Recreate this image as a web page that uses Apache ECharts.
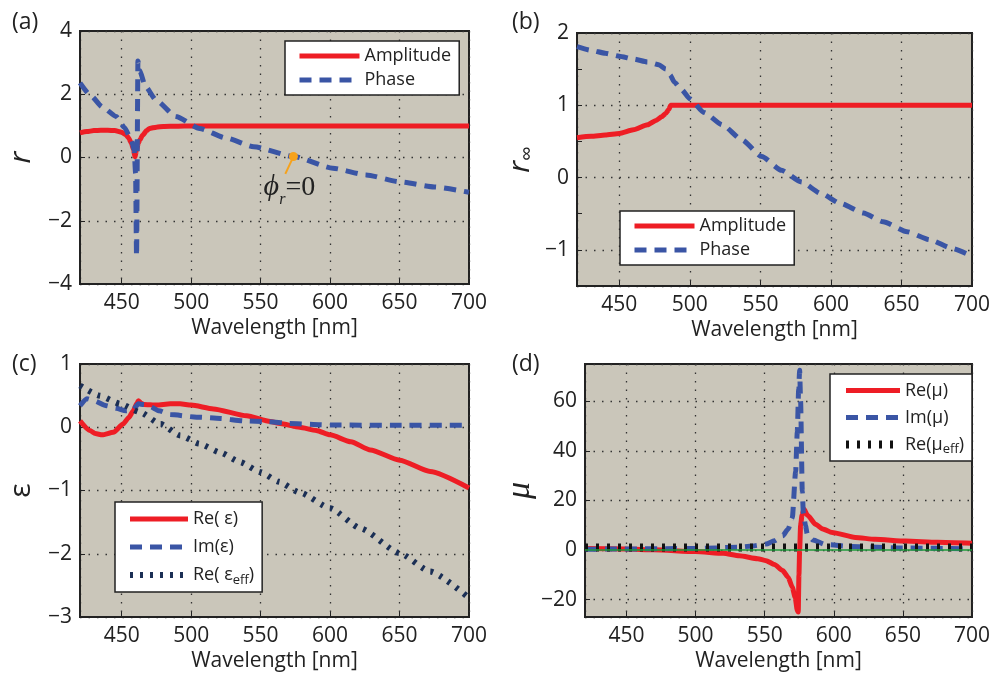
<!DOCTYPE html>
<html>
<head>
<meta charset="utf-8">
<title>Reflection and effective parameters</title>
<script src="https://cdn.jsdelivr.net/npm/echarts@6/dist/echarts.min.js"></script>
<style>
  html, body { margin: 0; background: #fff; }
  #chart { width: 993px; height: 675px; }
</style>
</head>
<body>
<div id="chart"></div>
<script>
// (a) reflection, r
const ampAX = [420, 425, 430, 435, 440, 445, 450, 453, 455, 457, 458.5, 459.6, 460.5, 462, 463, 465, 468, 470, 475, 480, 490, 500, 550, 600, 650, 700];
const ampAY = [0.78, 0.82, 0.85, 0.86, 0.86, 0.85, 0.8, 0.72, 0.62, 0.45, 0.25, 0.02, 0.2, 0.45, 0.55, 0.7, 0.85, 0.92, 0.96, 0.98, 0.99, 1.0, 1.0, 1.0, 1.0, 1.0];
const phaseAX = [420, 428, 436, 446, 452, 457, 459, 460, 460.7, 461.7, 463, 467, 475, 489, 506, 525, 545, 574, 602, 626, 650, 675, 700];
const phaseAY = [2.36, 1.95, 1.6, 1.3, 0.95, 0.55, 0.25, -0.5, -3.12, 3.05, 2.75, 2.25, 1.8, 1.3, 0.92, 0.62, 0.34, 0.03, -0.34, -0.55, -0.77, -0.93, -1.1];

// (b) r infinity
const ampBX = [420, 430, 440, 450, 460, 470, 476, 480, 483, 485, 486.5, 500, 550, 600, 650, 700];
const ampBY = [0.55, 0.57, 0.59, 0.61, 0.66, 0.73, 0.79, 0.84, 0.89, 0.94, 1.0, 1.0, 1.0, 1.0, 1.0, 1.0];
const phaseBX = [420, 430, 440, 450, 460, 470, 478, 483, 486, 489, 494, 500, 510, 523, 537, 551, 565, 579, 593, 607, 623, 637, 654, 670, 686, 700];
const phaseBY = [1.81, 1.76, 1.72, 1.68, 1.64, 1.6, 1.56, 1.5, 1.42, 1.32, 1.22, 1.09, 0.9, 0.73, 0.52, 0.29, 0.1, -0.06, -0.22, -0.36, -0.49, -0.61, -0.75, -0.86, -0.98, -1.09];

// (c) permittivity
const reEpsX = [420, 427, 431, 436, 444, 451, 455, 458.4, 461, 462, 464, 466, 475, 485, 492, 500, 516, 540, 557, 564, 578, 590, 600, 615, 629, 650, 672, 700];
const reEpsY = [0.1, -0.05, -0.1, -0.12, -0.08, 0.05, 0.15, 0.26, 0.38, 0.42, 0.38, 0.36, 0.35, 0.37, 0.37, 0.35, 0.29, 0.18, 0.09, 0.06, 0.0, -0.05, -0.12, -0.23, -0.36, -0.52, -0.7, -0.96];
const imEpsX = [420, 425, 430, 439, 446, 453, 458, 462, 466, 470, 477, 485, 504, 521, 538, 555, 571, 588, 602, 650, 700];
const imEpsY = [0.34, 0.45, 0.42, 0.34, 0.3, 0.26, 0.27, 0.37, 0.36, 0.33, 0.26, 0.2, 0.16, 0.14, 0.1, 0.09, 0.06, 0.045, 0.035, 0.03, 0.03];
const effEpsX = [420, 434, 449, 463, 478, 492, 506, 521, 535, 550, 563, 578, 600, 622, 650, 672, 700];
const effEpsY = [0.66, 0.5, 0.37, 0.24, 0.05, -0.13, -0.26, -0.4, -0.55, -0.71, -0.86, -1.03, -1.28, -1.6, -1.99, -2.28, -2.7];

// (d) permeability
const reMuX = [420, 450, 470, 500, 520, 531.6, 545, 551, 557, 563, 567, 570, 572, 573.6, 574.3, 574.8, 575.3, 576, 577, 578.4, 581, 586.8, 592, 598.8, 615.6, 630, 652, 675, 700];
const reMuY = [0.6, 0.4, 0.1, -0.6, -1.3, -2.3, -3.5, -4.3, -5.8, -8.3, -11, -15, -19, -24.3, -25, -10, 0, 10, 14, 16.5, 14, 10.4, 8.5, 7.1, 5.1, 4.3, 3.6, 3.1, 2.7];
const imMuX = [420, 500, 530, 539, 551, 557, 563, 567, 570, 572.4, 573.6, 574.6, 575.3, 576, 577.2, 578, 579.5, 580.8, 585, 594, 613, 650, 700];
const imMuY = [0.3, 0.6, 1.1, 1.5, 2.4, 3.7, 5.7, 8.5, 13, 31.7, 47.7, 65, 72.5, 60, 23.7, 15, 10, 6.4, 4, 2.2, 1.4, 0.8, 0.5];
const effMuX = [420, 500, 600, 700];
const effMuY = [1, 1, 1, 1];

const FONT = '"Open Sans", sans-serif';
const SERIF = '"Liberation Serif", serif';
const BG = '#cac6ba';
const RED = '#ee1d25';
const BLUE = '#3a55a5';
const NAVY = '#1b2f55';
const INK = '#222';
const ORANGE = '#f6a21c';

const DASH = [12, 8];
const DOT_EPS = [3, 7];
const DOT_MU = [3, 8];

const pairs = (xs, ys) => xs.map((x, i) => [x, ys[i]]);
const minus = v => (v < 0 ? '\u2212' + Math.abs(v) : String(v));
const gridLine = { color: '#333', width: 1.3, type: [1.5, 7] };

const grids = [
  { left: 80, top: 31, width: 389, height: 253 },
  { left: 577, top: 33, width: 399, height: 253 },
  { left: 80, top: 364, width: 389, height: 253 },
  { left: 585, top: 364, width: 389, height: 253 }
].map(g => Object.assign(g, { show: true, backgroundColor: BG, borderColor: INK, borderWidth: 2 }));

function xAxis(gridIndex) {
  return {
    type: 'value', gridIndex, min: 420, max: 700, minInterval: 50, maxInterval: 50,
    name: 'Wavelength [nm]', nameLocation: 'middle', nameGap: 34,
    nameTextStyle: { fontFamily: FONT, fontSize: 21, color: INK },
    axisLine: { show: true, onZero: false, lineStyle: { color: INK, width: 2 } },
    axisTick: { inside: true, length: 5, lineStyle: { color: INK } },
    axisLabel: { fontFamily: FONT, fontSize: 21, color: INK, margin: 9, formatter: v => (v % 50 === 0 ? String(v) : '') },
    splitLine: { show: true, lineStyle: gridLine }
  };
}

function yAxis(gridIndex, min, max, step, name, nameGap, rich, labelStep) {
  return {
    type: 'value', gridIndex, min, max, minInterval: step, maxInterval: step,
    name, nameLocation: 'middle', nameGap,
    nameTextStyle: { fontFamily: FONT, fontSize: 28, color: INK, rich },
    axisLine: { show: true, onZero: false, lineStyle: { color: INK, width: 2 } },
    axisTick: { inside: true, length: 5, lineStyle: { color: INK } },
    axisLabel: {
      fontFamily: FONT, fontSize: 21, color: INK, margin: 8,
      formatter: v => (Math.abs(v / labelStep - Math.round(v / labelStep)) < 1e-6 ? minus(v) : '')
    },
    splitLine: { show: labelStep === step, lineStyle: gridLine }
  };
}

const yAxes = [
  yAxis(0, -4, 4, 2, '{i|r}', 44, { i: { fontFamily: FONT, fontStyle: 'italic', fontSize: 30 } }, 2),
  yAxis(1, -1.5, 2, 0.5, '{i|r}{s|∞}', 38, {
    i: { fontFamily: FONT, fontStyle: 'italic', fontSize: 30 },
    s: { fontFamily: FONT, fontSize: 21, verticalAlign: 'bottom', lineHeight: 38 }
  }, 1),
  {
    type: 'value', gridIndex: 1, min: -1.5, max: 2, minInterval: 1, maxInterval: 1,
    axisLine: { show: false }, axisTick: { show: false }, axisLabel: { show: false },
    splitLine: { show: true, lineStyle: gridLine }
  },
  yAxis(2, -3, 1, 1, '{i|ε}', 44, { i: { fontFamily: FONT, fontSize: 30 } }, 1),
  yAxis(3, -27, 75, 20, '{i|μ}', 40, { i: { fontFamily: SERIF, fontStyle: 'italic', fontSize: 34 } }, 20)
];

function line(name, xi, yi, xs, ys, color, width, type, extra) {
  return Object.assign({
    name, type: 'line', xAxisIndex: xi, yAxisIndex: yi, data: pairs(xs, ys),
    symbol: 'none', smooth: 0.2, smoothMonotone: 'x', animation: false,
    lineStyle: { color, width, type }, itemStyle: { color }
  }, extra || {});
}

const series = [
  line('Amplitude', 0, 0, ampAX, ampAY, RED, 5, 'solid'),
  line('Phase', 0, 0, phaseAX, phaseAY, BLUE, 5, DASH, {
    markPoint: {
      silent: true, symbol: 'circle', symbolSize: 9, itemStyle: { color: ORANGE },
      label: {
        show: true, position: 'inside', offset: [-4, 31], formatter: '{p|\u03d5}{r|r}{e|=0}',
        rich: {
          p: { fontFamily: SERIF, fontStyle: 'italic', fontSize: 30, color: INK },
          r: { fontFamily: SERIF, fontStyle: 'italic', fontSize: 16, color: INK, verticalAlign: 'bottom', lineHeight: 40 },
          e: { fontFamily: SERIF, fontSize: 28, color: INK }
        }
      },
      data: [{ coord: [573.6, 0.03] }]
    },
    markLine: {
      silent: true, symbol: 'none', label: { show: false },
      lineStyle: { color: ORANGE, width: 2, type: 'solid' },
      data: [[{ coord: [573.6, 0.03] }, { coord: [567.8, -0.52] }]]
    }
  }),
  line('Amplitude', 1, 1, ampBX, ampBY, RED, 5, 'solid'),
  line('Phase', 1, 1, phaseBX, phaseBY, BLUE, 5, DASH),
  line('Re( ε)', 2, 3, reEpsX, reEpsY, RED, 5, 'solid'),
  line('Im(ε)', 2, 3, imEpsX, imEpsY, BLUE, 5, DASH),
  line('Re( εeff)', 2, 3, effEpsX, effEpsY, NAVY, 6, DOT_EPS),
  line('Re(μ)', 3, 4, reMuX, reMuY, RED, 5, 'solid'),
  line('Im(μ)', 3, 4, imMuX, imMuY, BLUE, 5, DASH),
  line('Re(μeff)', 3, 4, effMuX, effMuY, '#111', 8, DOT_MU, {
    smooth: false,
    markLine: {
      silent: true, symbol: 'none', label: { show: false },
      lineStyle: { color: '#1f9a3b', width: 1.5, type: 'solid' },
      data: [{ yAxis: 0 }]
    }
  })
];

// legend entries carry their own line widths (legend would thin them to 2px)
const item = (name, width, type) => ({ name, lineStyle: { width, type } });

function legend(data, left, top, itemWidth, lineHeight, formatter) {
  return {
    data, left, top, orient: 'vertical', selectedMode: false,
    itemWidth, itemHeight: 14, itemGap: 4, padding: [5, 8, 5, 12],
    backgroundColor: '#fff', borderColor: INK, borderWidth: 1.5,
    itemStyle: { opacity: 0 },
    textStyle: {
      fontFamily: FONT, fontSize: 18, color: INK, lineHeight,
      rich: { sub: { fontFamily: FONT, fontSize: 13, color: INK, verticalAlign: 'bottom', lineHeight } }
    },
    formatter
  };
}

const subFmt = name => name.replace('eff)', '{sub|eff})');

const option = {
  animation: false,
  grid: grids,
  xAxis: [xAxis(0), xAxis(1), xAxis(2), xAxis(3)],
  yAxis: yAxes,
  legend: [
    legend([item('Amplitude', 5, 'solid'), item('Phase', 5, DASH)], 285, 41, 60, 20),
    legend([item('Amplitude', 5, 'solid'), item('Phase', 5, DASH)], 620, 211, 60, 20),
    legend([item('Re( ε)', 5, 'solid'), item('Im(ε)', 5, DASH), item('Re( εeff)', 6, DOT_EPS)], 115, 502, 58, 24, subFmt),
    legend([item('Re(μ)', 5, 'solid'), item('Im(μ)', 5, DASH), item('Re(μeff)', 8, DOT_MU)], 830, 374, 54, 23, subFmt)
  ],
  graphic: [
    { type: 'text', left: 12, top: 11, style: { text: '(a)', fontFamily: FONT, fontSize: 23, fill: INK } },
    { type: 'text', left: 512, top: 11, style: { text: '(b)', fontFamily: FONT, fontSize: 23, fill: INK } },
    { type: 'text', left: 12, top: 353, style: { text: '(c)', fontFamily: FONT, fontSize: 23, fill: INK } },
    { type: 'text', left: 512, top: 353, style: { text: '(d)', fontFamily: FONT, fontSize: 23, fill: INK } }
  ],
  series
};

const chart = echarts.init(document.getElementById('chart'), null, { renderer: 'canvas' });
chart.setOption(option);
</script>
</body>
</html>
